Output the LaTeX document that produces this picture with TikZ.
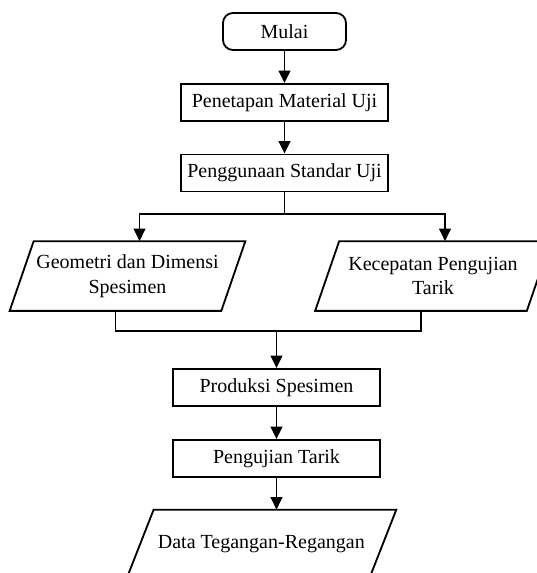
\documentclass[tikz,border=0pt]{standalone}
\usepackage{fontspec}
\setmainfont{Liberation Serif}
\usetikzlibrary{arrows.meta}

\tikzset{
    txt/.style={font=\fontsize{12}{14.8}\selectfont},
    box/.style={txt, draw, line width=1.1pt, minimum width=124.2pt, minimum height=22.2pt, inner sep=2pt},
    startbox/.style={box, rounded corners=6pt, minimum width=73.8pt},
    iobox/.style={txt, minimum width=126.6pt, minimum height=41.4pt, align=center, inner sep=0pt},
    databox/.style={iobox, minimum width=145.2pt},
    arr/.style={line width=1.1pt, -{Triangle[length=7.5pt,width=7pt]}},
    wire/.style={line width=1.1pt}
}

\begin{document}
\begin{tikzpicture}[x=0.6pt,y=-0.6pt]
    \useasboundingbox (0,0) rectangle (537,573);
    % columns of the chart
    \pgfmathsetmacro{\cx}{284.5}
    \pgfmathsetmacro{\dx}{276.5}

    \node[startbox] (start) at (\cx,31.5) {Mulai};
    \node[box] (mat) at (\cx,102.5) {Penetapan Material Uji};
    \node[box] (std) at (\cx,173) {Penggunaan Standar Uji};
    \node[iobox] (geo) at (127.5,276) {Geometri dan Dimensi\\Spesimen};
    \node[iobox] (kec) at (433,276) {Kecepatan Pengujian\\Tarik};
    \node[box] (prod) at (\dx,387.5) {Produksi Spesimen};
    \node[box] (tarik) at (\dx,458.5) {Pengujian Tarik};
    \node[databox] (data) at (261.3,544.5) {Data Tegangan-Regangan};

    % slanted sides of the input/output boxes
    \foreach \n/\s in {geo/7.2pt, kec/7.2pt, data/8.2pt}{
        \draw[wire] ([xshift=-\s]\n.south west) -- ([xshift=\s]\n.north west)
            -- ([xshift=\s]\n.north east) -- ([xshift=-\s]\n.south east) -- cycle;
    };

    \coordinate (split) at (\cx,213.6);
    \coordinate (join) at (\dx,331);

    \foreach \a/\b in {start/mat, mat/std, prod/tarik}{
        \draw[arr] (\a) -- (\b);
    };
    % branch out
    \draw[wire] (std) -- (split);
    \draw[arr] (split) -| ([xshift=7.2pt]geo.north);
    \draw[arr] (split) -| ([xshift=7.2pt]kec.north);
    % merge back
    \draw[wire] ([xshift=-7.2pt]geo.south) |- (join) -| ([xshift=-7.2pt]kec.south);
    \draw[arr] (join) -- (prod);
    \draw[arr] (tarik) -- (tarik |- data.north);
\end{tikzpicture}
\end{document}
